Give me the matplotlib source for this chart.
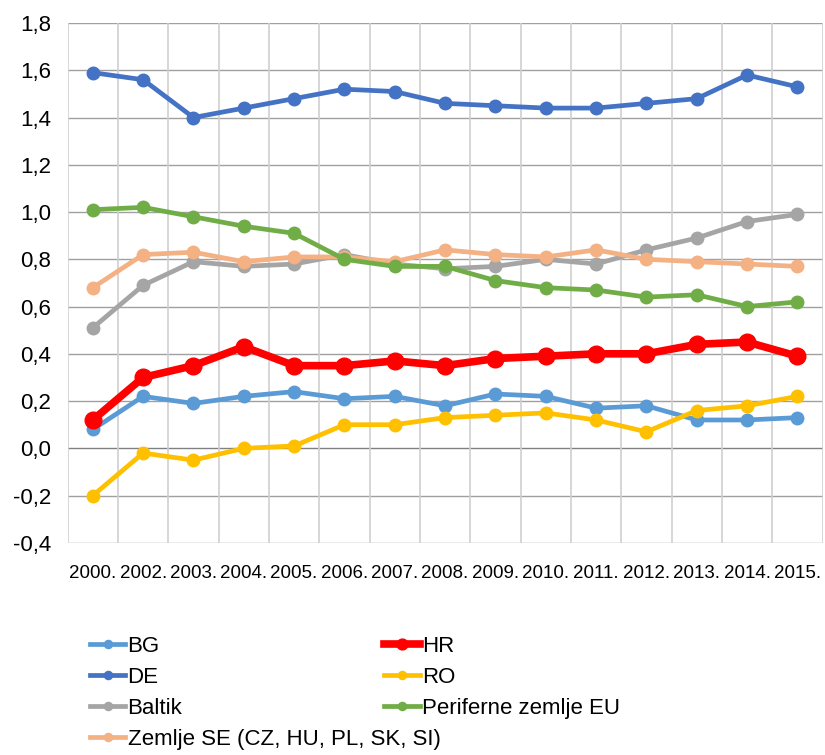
import numpy as np
import matplotlib.pyplot as plt

plt.rcParams['font.family'] = ['Liberation Sans', 'DejaVu Sans']

years = ['2000.', '2002.', '2003.', '2004.', '2005.', '2006.', '2007.', '2008.',
         '2009.', '2010.', '2011.', '2012.', '2013.', '2014.', '2015.']

bg = [0.08, 0.22, 0.19, 0.22, 0.24, 0.21, 0.22, 0.18, 0.23, 0.22, 0.17, 0.18, 0.12, 0.12, 0.13]
de = [1.59, 1.56, 1.40, 1.44, 1.48, 1.52, 1.51, 1.46, 1.45, 1.44, 1.44, 1.46, 1.48, 1.58, 1.53]
baltik = [0.51, 0.69, 0.79, 0.77, 0.78, 0.82, 0.78, 0.76, 0.77, 0.80, 0.78, 0.84, 0.89, 0.96, 0.99]
zemlje_se = [0.68, 0.82, 0.83, 0.79, 0.81, 0.81, 0.79, 0.84, 0.82, 0.81, 0.84, 0.80, 0.79, 0.78, 0.77]
hr = [0.12, 0.30, 0.35, 0.43, 0.35, 0.35, 0.37, 0.35, 0.38, 0.39, 0.40, 0.40, 0.44, 0.45, 0.39]
ro = [-0.20, -0.02, -0.05, 0.00, 0.01, 0.10, 0.10, 0.13, 0.14, 0.15, 0.12, 0.07, 0.16, 0.18, 0.22]
periferne = [1.01, 1.02, 0.98, 0.94, 0.91, 0.80, 0.77, 0.77, 0.71, 0.68, 0.67, 0.64, 0.65, 0.60, 0.62]

fig = plt.figure(figsize=(8.25, 7.55), dpi=100)
ax = fig.add_axes([0.082, 0.281, 0.915, 0.6885])

x = np.arange(len(years))

series = [
    ('BG', bg, '#5B9BD5'),
    ('DE', de, '#4472C4'),
    ('Baltik', baltik, '#A5A5A5'),
    ('Zemlje SE (CZ, HU, PL, SK, SI)', zemlje_se, '#F4B183'),
    ('RO', ro, '#FFC000'),
    ('Periferne zemlje EU', periferne, '#70AD47'),
]
handles = {}
for name, vals, col in series:
    h, = ax.plot(x, vals, color=col, lw=3.4, marker='o', ms=9, label=name, zorder=3)
    handles[name] = h
# HR is the highlighted series
h, = ax.plot(x, hr, color='#FF0000', lw=5.5, marker='o', ms=12, label='HR', zorder=4)
handles['HR'] = h

ax.set_xlim(-0.5, len(years) - 0.5)
ax.set_ylim(-0.4, 1.8)
yt = np.arange(-0.4, 1.81, 0.2)
ax.set_yticks(yt)
ax.set_yticklabels([f'{v:.1f}'.replace('.', ',').replace('-0,0', '0,0') for v in yt], fontsize=16)
ax.set_xticks(x)
ax.set_xticklabels(years, fontsize=13.5)
ax.tick_params(length=0)
ax.tick_params(axis='y', pad=12)
ax.tick_params(axis='x', pad=16)

for v in yt:
    ax.axhline(v, color='#A0A0A0' if abs(v) > 1e-9 else '#808080', lw=1, zorder=1)
for b in np.arange(-0.5, len(years), 1.0):
    ax.axvline(b, color='#D0D0D0', lw=1.2, zorder=1)
for s in ax.spines.values():
    s.set_visible(False)

col1 = ['BG', 'DE', 'Baltik', 'Zemlje SE (CZ, HU, PL, SK, SI)']
col2 = ['HR', 'RO', 'Periferne zemlje EU']
kw = dict(loc='upper left', frameon=False, fontsize=16, handlelength=1.6,
          handletextpad=0.1, labelspacing=0.45, markerscale=0.65, borderaxespad=0)
leg1 = fig.legend([handles[k] for k in col1], col1, bbox_to_anchor=(0.098, 0.17), **kw)
leg2 = fig.legend([handles[k] for k in col2], col2, bbox_to_anchor=(0.455, 0.17), **kw)

fig.savefig('out.png', dpi=100)
